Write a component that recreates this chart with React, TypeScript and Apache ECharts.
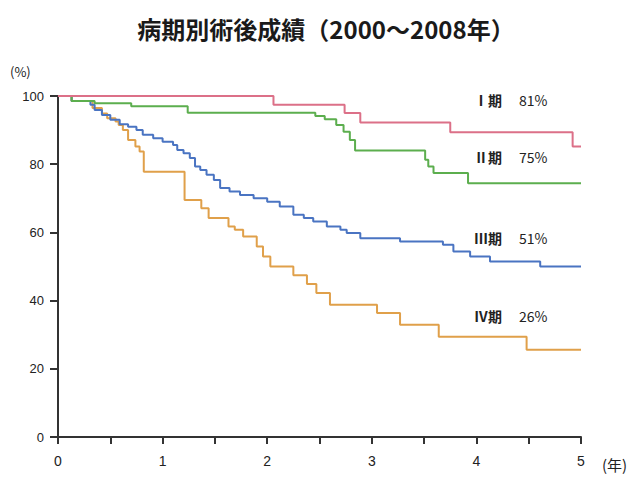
import React, { useEffect, useRef } from "react";
import * as echarts from "echarts";

const stageNames = ["Ⅰ期", "Ⅱ期", "Ⅲ期", "Ⅳ期"];
const stageRates = ["81%", "75%", "51%", "26%"];

const timesI = [0, 2.06, 2.74, 2.89, 3.75, 4.92, 5.0];
const valuesI = [100, 97.4, 95.0, 92.2, 89.4, 85.2, 85.2];

const timesII = [0, 0.13, 0.35, 0.7, 1.24, 2.46, 2.55, 2.66, 2.73, 2.79, 2.84, 3.51, 3.54, 3.59, 3.92, 5.0];
const valuesII = [100, 98.5, 97.9, 97.0, 95.1, 94.1, 93.2, 91.5, 89.5, 87.1, 84.0, 81.3, 79.3, 77.4, 74.4, 74.4];

const timesIII = [
  0, 0.13, 0.31, 0.35, 0.42, 0.5, 0.59, 0.67, 0.75, 0.81,
  0.91, 1.0, 1.1, 1.14, 1.2, 1.26, 1.31, 1.36, 1.42, 1.49,
  1.55, 1.64, 1.74, 1.87, 2.0, 2.12, 2.25, 2.35, 2.44, 2.57,
  2.7, 2.76, 2.89, 3.27, 3.68, 3.78, 3.94, 4.13, 4.61, 5.0,
];
const valuesIII = [
  100, 98.5, 97.4, 95.9, 94.4, 93.0, 91.7, 91.0, 90.0, 88.6,
  87.6, 86.6, 85.6, 84.2, 83.2, 81.8, 79.3, 78.3, 76.9, 75.4,
  73.0, 72.0, 71.0, 70.0, 69.0, 67.6, 65.2, 64.2, 63.2, 61.7,
  60.8, 59.8, 58.3, 57.3, 56.4, 54.4, 52.9, 51.5, 50.0, 50.0,
];

const timesIV = [
  0, 0.13, 0.33, 0.42, 0.47, 0.55, 0.58, 0.62, 0.67, 0.74,
  0.78, 0.82, 1.21, 1.37, 1.44, 1.63, 1.69, 1.77, 1.9, 1.96,
  2.03, 2.25, 2.38, 2.47, 2.6, 3.05, 3.27, 3.64, 4.48, 5.0,
];
const valuesIV = [
  100, 98.5, 96.5, 94.9, 93.5, 92.5, 91.5, 90.0, 87.1, 85.2,
  83.7, 77.8, 69.5, 67.1, 64.2, 61.7, 60.8, 58.8, 55.9, 52.9,
  50.0, 47.4, 44.9, 42.2, 38.8, 36.4, 32.9, 29.4, 25.6, 25.6,
];

const xTicks = [0, 1, 2, 3, 4, 5];

const pairs = (t: number[], v: number[]) => t.map((x, i) => [x, v[i]]);

export default function App() {
  const ref = useRef<HTMLDivElement>(null);
  useEffect(() => {
    if (!ref.current) return;
    const chart = echarts.init(ref.current, null, { renderer: "svg" });
    const labelFont = "'Liberation Sans Narrow', 'Liberation Sans', sans-serif";
    const cjk = "'Noto Sans CJK JP', sans-serif";
    const mk = (name: string, t: number[], v: number[], color: string) => ({
      name,
      type: "line",
      step: "end",
      data: pairs(t, v),
      showSymbol: false,
      symbol: "none",
      lineStyle: { color, width: 2 },
    });
    const stageY = [100, 157, 238, 316];
    const graphics: any[] = [
      {
        type: "text",
        x: 326,
        y: 28,
        style: {
          text: "病期別術後成績（2000～2008年）",
          font: `bold 24px ${cjk}`,
          fill: "#1a1a1a",
          textAlign: "center",
          textVerticalAlign: "middle",
        },
      },
      { type: "text", x: 10, y: 71, style: { text: "(%)", font: `13px ${cjk}`, fill: "#222", textVerticalAlign: "middle" } },
      { type: "text", x: 602, y: 464, style: { text: "(年)", font: `15px ${cjk}`, fill: "#222", textVerticalAlign: "middle" } },
    ];
    stageNames.forEach((n, i) => {
      graphics.push({
        type: "text",
        x: 502,
        y: stageY[i],
        style: { text: n, font: `bold 14px ${cjk}`, fill: "#222", textAlign: "right", textVerticalAlign: "middle" },
      });
      graphics.push({
        type: "text",
        x: 519,
        y: stageY[i],
        style: { text: stageRates[i], font: `14px ${cjk}`, fill: "#222", textAlign: "left", textVerticalAlign: "middle" },
      });
    });
    chart.setOption({
      animation: false,
      backgroundColor: "#ffffff",
      grid: { left: 58, right: 58, top: 96, bottom: 62, containLabel: false },
      xAxis: {
        type: "value",
        min: 0,
        max: 5,
        interval: 0.5,
        axisLine: { lineStyle: { color: "#333", width: 2 } },
        axisTick: { show: true, length: 7, lineStyle: { color: "#333", width: 2 } },
        axisLabel: {
          margin: 17,
          color: "#222",
          fontSize: 14,
          fontFamily: labelFont,
          formatter: (v: number) => (xTicks.includes(v) ? String(v) : ""),
        },
        splitLine: { show: false },
      },
      yAxis: {
        type: "value",
        min: 0,
        max: 100,
        interval: 20,
        axisLine: { show: true, lineStyle: { color: "#333", width: 2 } },
        axisTick: { show: true, length: 8, lineStyle: { color: "#333", width: 2 } },
        axisLabel: { margin: 14, color: "#222", fontSize: 13, fontFamily: labelFont },
        splitLine: { show: false },
      },
      series: [
        mk("Ⅳ期", timesIV, valuesIV, "#e0a04a"),
        mk("Ⅲ期", timesIII, valuesIII, "#4a74c2"),
        mk("Ⅱ期", timesII, valuesII, "#5cae4e"),
        mk("Ⅰ期", timesI, valuesI, "#dc7088"),
      ],
      graphic: graphics,
    });
    return () => chart.dispose();
  }, []);
  return (
    <div
      ref={ref}
      style={{ position: "fixed", left: 0, top: 0, width: 639, height: 499, background: "#fff" }}
    />
  );
}
